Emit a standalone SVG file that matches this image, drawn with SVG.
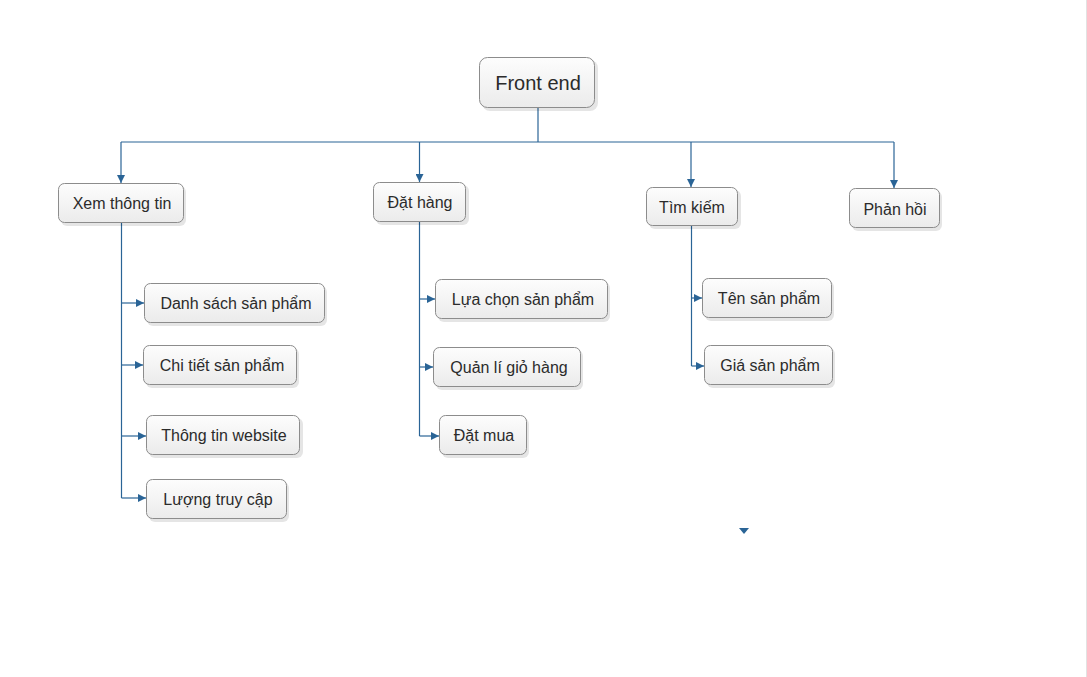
<svg xmlns="http://www.w3.org/2000/svg" width="1087" height="677" viewBox="0 0 1087 677">
<style>
.box{fill:url(#g);stroke:#8c8c8c;stroke-width:1}
.sh{fill:#000;opacity:0.10}
.t{font-family:"Liberation Sans",Arial,sans-serif;font-size:16px;fill:#2b2b2b;text-anchor:middle;dominant-baseline:central}
.c{fill:none;stroke:#2a6496;stroke-width:1.2}
</style>
<defs>
<linearGradient id="g" x1="0" y1="0" x2="0" y2="1">
<stop offset="0" stop-color="#fdfdfd"/>
<stop offset="1" stop-color="#ebebeb"/>
</linearGradient>
<marker id="a" viewBox="0 0 10 10" refX="10" refY="5" markerWidth="8" markerHeight="8" markerUnits="userSpaceOnUse" orient="auto">
<path d="M0,0 L10,5 L0,10 z" fill="#2a6496"/>
</marker>
</defs>
<rect width="1087" height="677" fill="#fff"/>
<line x1="1086.5" y1="0" x2="1086.5" y2="677" stroke="#e2e2e2"/>
<g id="connectors">
<path class="c" d="M538,108 V142"/>
<path class="c" d="M121,142 H894"/>
<path class="c" d="M121,142 V183" marker-end="url(#a)"/>
<path class="c" d="M419.5,142 V182" marker-end="url(#a)"/>
<path class="c" d="M691,142 V187" marker-end="url(#a)"/>
<path class="c" d="M894,142 V188" marker-end="url(#a)"/>
<path class="c" d="M121.5,223 V498"/>
<path class="c" d="M121.5,303 H144" marker-end="url(#a)"/>
<path class="c" d="M121.5,365 H143" marker-end="url(#a)"/>
<path class="c" d="M121.5,436 H146" marker-end="url(#a)"/>
<path class="c" d="M121.5,498 H146" marker-end="url(#a)"/>
<path class="c" d="M419.5,222 V436"/>
<path class="c" d="M419.5,299 H435" marker-end="url(#a)"/>
<path class="c" d="M419.5,367 H433" marker-end="url(#a)"/>
<path class="c" d="M419.5,436 H439" marker-end="url(#a)"/>
<path class="c" d="M691.5,226 V366"/>
<path class="c" d="M691.5,298 H702" marker-end="url(#a)"/>
<path class="c" d="M691.5,366 H704" marker-end="url(#a)"/>
<path d="M739,528 L749,528 L744,534 z" fill="#2a6496"/>
</g>
<g id="front-end"><rect class="sh" x="482" y="60" width="116" height="51" rx="8"/><rect class="box" x="479.5" y="57.5" width="115" height="50" rx="8"/><text class="t" x="538" y="83" style="font-size:20px">Front end</text></g>
<g id="xem-thong-tin"><rect class="sh" x="61" y="186" width="125" height="40" rx="6"/><rect class="box" x="58.5" y="183.5" width="125" height="39" rx="6"/><text class="t" x="122" y="203">Xem thông tin</text></g>
<g id="dat-hang"><rect class="sh" x="376" y="185" width="93" height="40" rx="6"/><rect class="box" x="373.5" y="182.5" width="92" height="39" rx="6"/><text class="t" x="420" y="202">Đặt hàng</text></g>
<g id="tim-kiem"><rect class="sh" x="649" y="190" width="92" height="39" rx="6"/><rect class="box" x="646.5" y="187.5" width="91" height="38" rx="6"/><text class="t" x="692" y="207">Tìm kiếm</text></g>
<g id="phan-hoi"><rect class="sh" x="852" y="191" width="90" height="40" rx="6"/><rect class="box" x="849.5" y="188.5" width="90" height="39" rx="6"/><text class="t" x="895" y="209">Phản hồi</text></g>
<g id="danh-sach-san-pham"><rect class="sh" x="147" y="286" width="180" height="40" rx="6"/><rect class="box" x="144.5" y="283.5" width="180" height="39" rx="6"/><text class="t" x="236" y="303">Danh sách sản phẩm</text></g>
<g id="chi-tiet-san-pham"><rect class="sh" x="146" y="348" width="153" height="40" rx="6"/><rect class="box" x="143.5" y="345.5" width="153" height="39" rx="6"/><text class="t" x="222" y="365">Chi tiết sản phẩm</text></g>
<g id="thong-tin-website"><rect class="sh" x="149" y="418" width="154" height="40" rx="6"/><rect class="box" x="146.5" y="415.5" width="153" height="39" rx="6"/><text class="t" x="224" y="435">Thông tin website</text></g>
<g id="luong-truy-cap"><rect class="sh" x="149" y="482" width="140" height="40" rx="6"/><rect class="box" x="146.5" y="479.5" width="140" height="39" rx="6"/><text class="t" x="218" y="499">Lượng truy cập</text></g>
<g id="lua-chon-san-pham"><rect class="sh" x="438" y="282" width="172" height="40" rx="6"/><rect class="box" x="435.5" y="279.5" width="172" height="39" rx="6"/><text class="t" x="523" y="299">Lựa chọn sản phẩm</text></g>
<g id="quan-li-gio-hang"><rect class="sh" x="436" y="350" width="147" height="40" rx="6"/><rect class="box" x="433.5" y="347.5" width="147" height="39" rx="6"/><text class="t" x="509" y="367">Quản lí giỏ hàng</text></g>
<g id="dat-mua"><rect class="sh" x="442" y="418" width="87" height="40" rx="6"/><rect class="box" x="439.5" y="415.5" width="87" height="39" rx="6"/><text class="t" x="484" y="435">Đặt mua</text></g>
<g id="ten-san-pham"><rect class="sh" x="705" y="281" width="129" height="40" rx="6"/><rect class="box" x="702.5" y="278.5" width="129" height="39" rx="6"/><text class="t" x="769" y="298">Tên sản phẩm</text></g>
<g id="gia-san-pham"><rect class="sh" x="707" y="348" width="128" height="40" rx="6"/><rect class="box" x="704.5" y="345.5" width="128" height="39" rx="6"/><text class="t" x="770" y="365">Giá sản phẩm</text></g>
</svg>
